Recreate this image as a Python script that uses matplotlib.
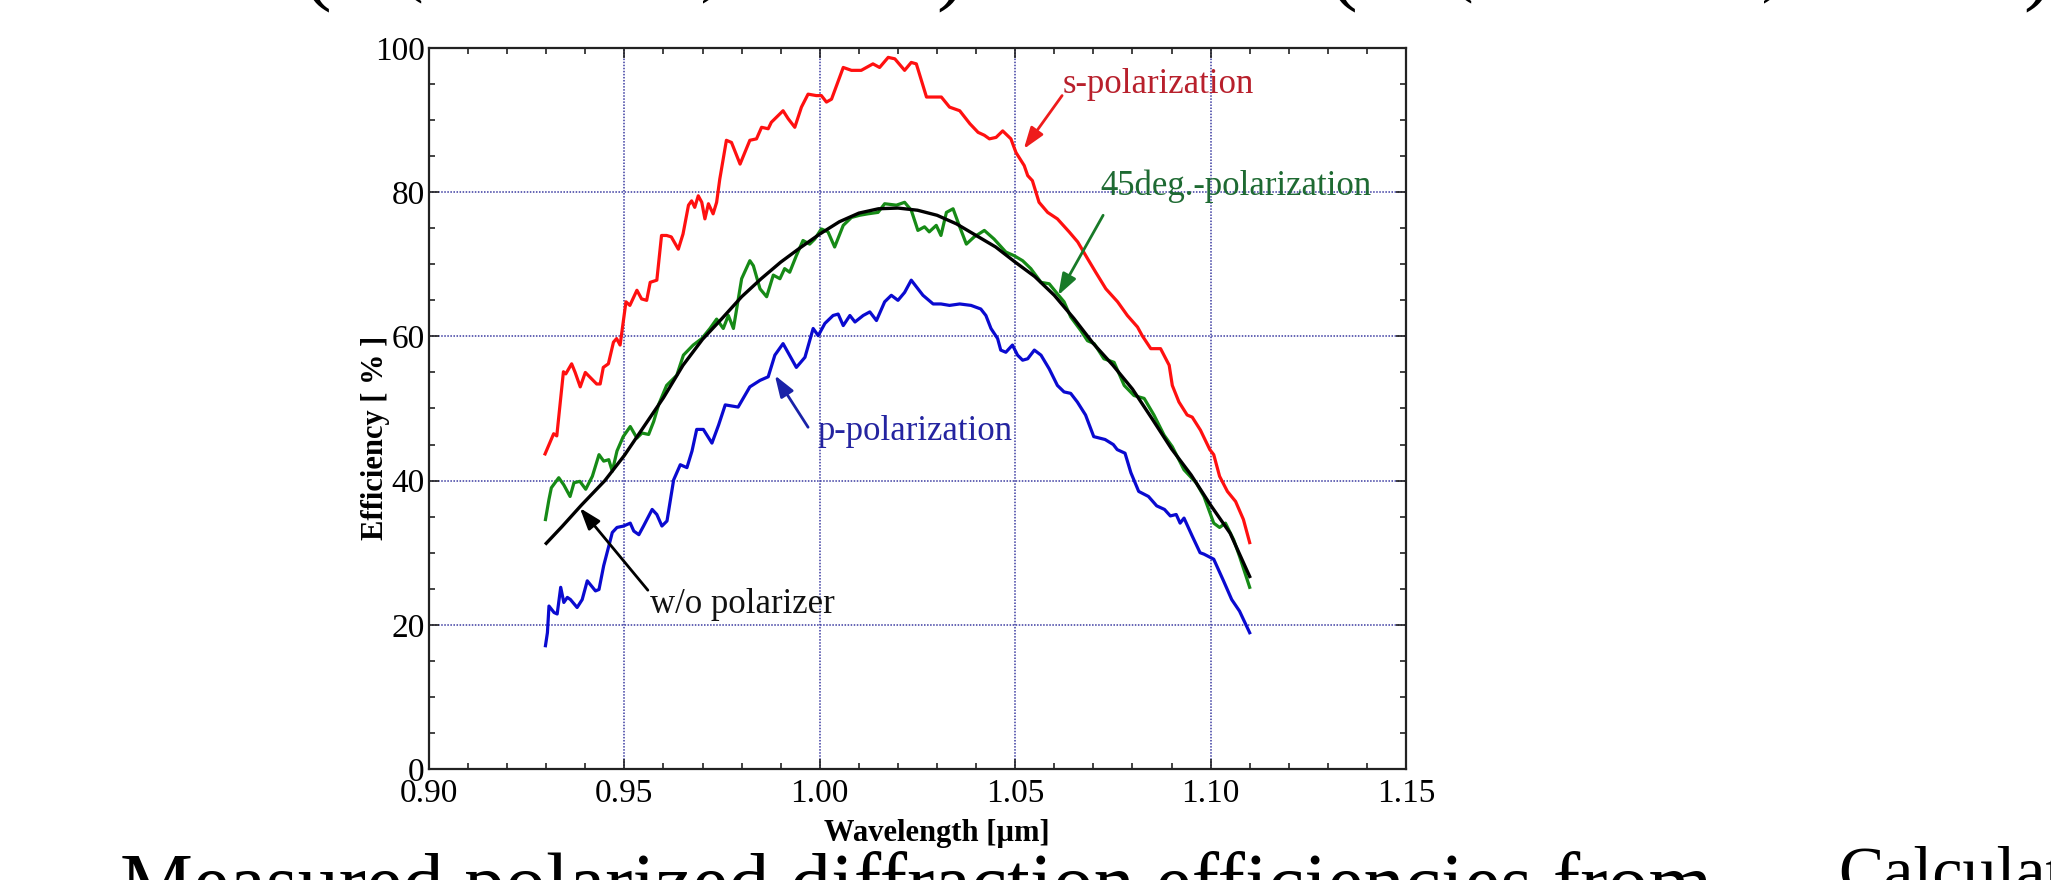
import matplotlib
matplotlib.use("Agg")
import matplotlib.pyplot as plt
import numpy as np
from matplotlib.ticker import MultipleLocator, FormatStrFormatter

plt.rcParams['font.family'] = ['Liberation Serif', 'DejaVu Serif']

# measured efficiency curves, (wavelength um, efficiency %)
s_pol = np.array([
    (0.9297, 43.7), (0.9319, 46.5), (0.9327, 46.2), (0.9344, 55.1), (0.9350, 54.8),
    (0.9365, 56.2), (0.9374, 55.0), (0.9387, 53.0), (0.9400, 55.0), (0.9429, 53.4),
    (0.9438, 53.4), (0.9446, 55.7), (0.9459, 56.2), (0.9472, 59.2), (0.9480, 59.7),
    (0.9489, 58.8), (0.9504, 64.8), (0.9514, 64.3), (0.9532, 66.4), (0.9544, 65.2),
    (0.9557, 65.0), (0.9566, 67.5), (0.9583, 67.8), (0.9595, 74.0), (0.9608, 74.0),
    (0.9620, 73.8), (0.9638, 72.1), (0.9650, 74.2), (0.9664, 78.2), (0.9672, 78.8),
    (0.9680, 77.9), (0.9689, 79.5), (0.9698, 78.6), (0.9706, 76.3), (0.9715, 78.4),
    (0.9727, 77.0), (0.9736, 78.6), (0.9744, 81.8), (0.9761, 87.2), (0.9774, 86.9),
    (0.9796, 83.9), (0.9821, 87.2), (0.9838, 87.4), (0.9851, 89.0), (0.9868, 88.8),
    (0.9876, 89.7), (0.9906, 91.3), (0.9919, 90.2), (0.9936, 89.0), (0.9953, 91.8),
    (0.9970, 93.6), (0.9991, 93.4), (1.0004, 93.4), (1.0017, 92.5), (1.0030, 92.9),
    (1.0060, 97.3), (1.0081, 96.9), (1.0106, 96.9), (1.0136, 97.8), (1.0153, 97.3),
    (1.0175, 98.7), (1.0192, 98.5), (1.0217, 96.9), (1.0234, 98.0), (1.0247, 97.8),
    (1.0273, 93.2), (1.0311, 93.2), (1.0332, 91.8), (1.0358, 91.3), (1.0384, 89.5),
    (1.0405, 88.3), (1.0421, 87.9), (1.0434, 87.4), (1.0451, 87.6), (1.0468, 88.5),
    (1.0489, 87.4), (1.0502, 85.5), (1.0523, 83.7), (1.0532, 82.3), (1.0544, 81.6),
    (1.0561, 78.6), (1.0583, 77.2), (1.0608, 76.3), (1.0638, 74.5), (1.0660, 73.1),
    (1.0685, 70.8), (1.0706, 68.9), (1.0732, 66.6), (1.0762, 64.8), (1.0787, 62.9),
    (1.0813, 61.3), (1.0825, 60.1), (1.0847, 58.3), (1.0872, 58.3), (1.0894, 56.0),
    (1.0902, 53.2), (1.0919, 50.9), (1.0940, 49.1), (1.0953, 48.8), (1.0974, 47.0),
    (1.0998, 44.3), (1.1008, 43.6), (1.1023, 40.6), (1.1043, 38.5), (1.1064, 37.1),
    (1.1084, 34.6), (1.1100, 31.4)])

deg45_pol = np.array([
    (0.9298, 34.6), (0.9307, 37.4), (0.9313, 39.0), (0.9332, 40.4), (0.9345, 39.4),
    (0.9361, 37.8), (0.9371, 39.7), (0.9386, 39.9), (0.9401, 38.8), (0.9418, 40.6),
    (0.9435, 43.6), (0.9447, 42.7), (0.9460, 42.9), (0.9469, 41.3), (0.9481, 44.1),
    (0.9497, 46.1), (0.9515, 47.5), (0.9532, 45.9), (0.9545, 46.6), (0.9562, 46.4),
    (0.9575, 48.2), (0.9588, 50.6), (0.9608, 53.2), (0.9634, 54.6), (0.9651, 57.4),
    (0.9676, 58.8), (0.9698, 59.7), (0.9719, 61.1), (0.9736, 62.4), (0.9753, 61.1),
    (0.9766, 62.9), (0.9779, 61.1), (0.9800, 68.0), (0.9821, 70.5), (0.9830, 69.8),
    (0.9847, 66.6), (0.9864, 65.5), (0.9881, 68.5), (0.9898, 68.0), (0.9910, 69.4),
    (0.9923, 68.9), (0.9940, 71.2), (0.9957, 73.3), (0.9974, 72.8), (0.9987, 73.5),
    (1.0004, 74.9), (1.0021, 74.5), (1.0038, 72.4), (1.0060, 75.4), (1.0081, 76.5),
    (1.0102, 76.8), (1.0123, 77.0), (1.0149, 77.2), (1.0166, 78.4), (1.0196, 78.2),
    (1.0217, 78.6), (1.0234, 77.5), (1.0251, 74.7), (1.0268, 75.2), (1.0280, 74.5),
    (1.0298, 75.4), (1.0310, 74.0), (1.0324, 77.2), (1.0341, 77.7), (1.0358, 75.2),
    (1.0375, 72.8), (1.0395, 73.8), (1.0421, 74.7), (1.0446, 73.5), (1.0476, 71.7),
    (1.0497, 71.2), (1.0519, 70.5), (1.0540, 69.4), (1.0566, 67.5), (1.0587, 67.3),
    (1.0608, 65.9), (1.0625, 64.8), (1.0642, 62.7), (1.0668, 60.8), (1.0685, 59.4),
    (1.0702, 59.0), (1.0727, 56.9), (1.0753, 56.4), (1.0779, 53.2), (1.0804, 51.8),
    (1.0830, 51.4), (1.0855, 49.1), (1.0881, 46.3), (1.0902, 44.7), (1.0932, 41.5),
    (1.0963, 39.7), (1.0983, 37.8), (1.1008, 34.1), (1.1023, 33.5), (1.1038, 34.1),
    (1.1059, 31.8), (1.1074, 29.5), (1.1100, 25.2)])

p_pol = np.array([
    (0.9298, 17.1), (0.9303, 18.9), (0.9307, 22.6), (0.9320, 21.7), (0.9328, 21.5),
    (0.9337, 25.2), (0.9345, 23.1), (0.9354, 23.8), (0.9362, 23.5), (0.9379, 22.4),
    (0.9392, 23.5), (0.9405, 26.1), (0.9426, 24.7), (0.9435, 24.9), (0.9447, 28.2),
    (0.9460, 30.9), (0.9469, 32.8), (0.9481, 33.5), (0.9498, 33.7), (0.9515, 34.1),
    (0.9524, 33.0), (0.9537, 32.5), (0.9549, 33.7), (0.9571, 36.0), (0.9583, 35.3),
    (0.9596, 33.7), (0.9609, 34.4), (0.9626, 40.1), (0.9643, 42.2), (0.9660, 41.8),
    (0.9673, 44.1), (0.9685, 47.1), (0.9702, 47.1), (0.9724, 45.2), (0.9741, 47.7),
    (0.9758, 50.5), (0.9791, 50.2), (0.9821, 53.0), (0.9847, 53.9), (0.9868, 54.4),
    (0.9885, 57.4), (0.9906, 59.0), (0.9940, 55.7), (0.9962, 57.1), (0.9983, 61.1),
    (0.9996, 60.1), (1.0013, 61.8), (1.0034, 62.9), (1.0047, 63.1), (1.0060, 61.5),
    (1.0077, 62.9), (1.0090, 62.0), (1.0111, 62.9), (1.0128, 63.4), (1.0145, 62.2),
    (1.0166, 64.8), (1.0183, 65.7), (1.0200, 65.0), (1.0217, 66.1), (1.0234, 67.8),
    (1.0264, 65.7), (1.0290, 64.5), (1.0310, 64.5), (1.0332, 64.3), (1.0358, 64.5),
    (1.0387, 64.3), (1.0412, 63.8), (1.0425, 62.9), (1.0438, 61.1), (1.0455, 59.7),
    (1.0463, 58.1), (1.0476, 57.8), (1.0493, 58.8), (1.0506, 57.4), (1.0519, 56.7),
    (1.0532, 56.9), (1.0549, 58.1), (1.0566, 57.4), (1.0587, 55.5), (1.0608, 53.2),
    (1.0625, 52.3), (1.0642, 52.1), (1.0659, 50.9), (1.0680, 49.1), (1.0701, 46.1),
    (1.0730, 45.7), (1.0751, 45.0), (1.0761, 44.3), (1.0781, 43.8), (1.0796, 41.1),
    (1.0816, 38.5), (1.0841, 37.8), (1.0862, 36.5), (1.0882, 36.0), (1.0897, 35.1),
    (1.0912, 35.3), (1.0922, 34.1), (1.0932, 34.8), (1.0953, 32.3), (1.0973, 30.0),
    (1.0983, 29.8), (1.1008, 29.1), (1.1033, 26.1), (1.1054, 23.5), (1.1074, 21.9),
    (1.1100, 18.9)])

no_pol = np.array([
    (0.930, 31.3), (0.934, 33.6), (0.939, 36.6), (0.945, 40.0), (0.950, 43.5),
    (0.955, 47.5), (0.960, 51.5), (0.965, 56.0), (0.970, 59.6), (0.975, 62.5),
    (0.980, 65.5), (0.985, 68.0), (0.990, 70.3), (0.995, 72.3), (1.000, 74.2),
    (1.005, 75.9), (1.010, 77.1), (1.015, 77.7), (1.020, 77.8), (1.025, 77.5),
    (1.030, 76.8), (1.035, 75.6), (1.040, 74.0), (1.045, 72.4), (1.050, 70.3),
    (1.055, 68.3), (1.060, 65.7), (1.065, 62.5), (1.070, 59.0), (1.075, 56.0),
    (1.080, 52.7), (1.085, 48.6), (1.090, 44.4), (1.095, 40.8), (1.100, 36.6),
    (1.105, 32.7), (1.110, 26.7)])

x_ticks = [0.90, 0.95, 1.00, 1.05, 1.10, 1.15]
y_ticks = [0, 20, 40, 60, 80, 100]

W, H = 2051, 880


def fx(px):
    return px / W


def fy(py):
    return (H - py) / H


fig = plt.figure(figsize=(W / 100, H / 100), dpi=100)
ax = fig.add_axes([fx(429), fy(769), 977 / W, 721 / H])

ax.plot(s_pol[:, 0], s_pol[:, 1], c="#ff1010", lw=2.3, zorder=3)
ax.plot(deg45_pol[:, 0], deg45_pol[:, 1], c="#168a16", lw=2.3, zorder=3)
ax.plot(p_pol[:, 0], p_pol[:, 1], c="#0a0ad0", lw=2.3, zorder=3)
ax.plot(no_pol[:, 0], no_pol[:, 1], c="black", lw=2.4, zorder=4)

ax.set_xlim(0.90, 1.15)
ax.set_ylim(0, 100)
ax.set_xticks(x_ticks)
ax.set_yticks(y_ticks)
ax.xaxis.set_major_formatter(FormatStrFormatter("%.2f"))
ax.xaxis.set_minor_locator(MultipleLocator(0.01))
ax.yaxis.set_minor_locator(MultipleLocator(5))
ax.tick_params(which="both", direction="in", top=True, right=True,
               labelsize=24, width=1.2, color="#222222")
ax.tick_params(which="major", length=7)
ax.tick_params(which="minor", length=4.5)
ax.tick_params(axis="x", pad=7)
ax.tick_params(axis="y", pad=3)
for sp in ax.spines.values():
    sp.set_linewidth(1.6)
    sp.set_color("#222222")
ax.grid(True, which="major", color="#3a3aa0", linestyle=(0, (1, 1)), lw=1.1)

fig.text(fx(937), fy(833), "Wavelength [µm]", fontsize=22, fontweight="bold",
         ha="center", va="center")
fig.text(fx(375), fy(438), "Efficiency [ % ]", fontsize=22, fontweight="bold",
         ha="center", va="center", rotation=90)

# annotations with arrows: label, text pos, arrow tip, arrow tail, colours
notes = [
    ("s-polarization", (1.0622, 93.8), (1.0522, 86.0), (1.0620, 93.4), "#b8202c", "#ee1c1c"),
    ("45deg.-polarization", (1.0717, 79.6), (1.0610, 65.7), (1.0725, 76.8), "#1e6a32", "#187a28"),
    ("p-polarization", (0.9995, 45.6), (0.9885, 54.6), (0.9970, 47.4), "#2424a0", "#1a22a8"),
    ("w/o polarizer", (0.9566, 21.6), (0.9386, 36.2), (0.9560, 24.8), "#111111", "#000000"),
]
for label, txy, hxy, tail, tc, ac in notes:
    ax.text(txy[0], txy[1], label, fontsize=25, color=tc, ha="left", va="baseline")
    ax.annotate("", xy=hxy, xytext=tail,
                arrowprops=dict(arrowstyle="-|>,head_length=1.3,head_width=0.45",
                                color=ac, lw=2.0, shrinkA=0, shrinkB=0))

# cut-off fragments of slide text above and below the figure
brackets = [(317, "(", 62, 12), (412, "(", 46, 3), (712, ")", 46, 3),
            (951, ")", 62, 12), (1343, "(", 62, 12), (1462, "(", 46, 3),
            (1773, ")", 46, 3), (2038, ")", 62, 12)]
for px, ch, size, bottom in brackets:
    fig.text(fx(px), fy(bottom), ch, fontsize=size, ha="center", va="bottom")

fig.text(fx(120), fy(910), "Measured polarized diffraction efficiencies from",
         fontsize=59, ha="left", va="baseline")
fig.text(fx(1838), fy(893), "Calculated", fontsize=49, ha="left", va="baseline")

fig.savefig("out.png", dpi=100)
